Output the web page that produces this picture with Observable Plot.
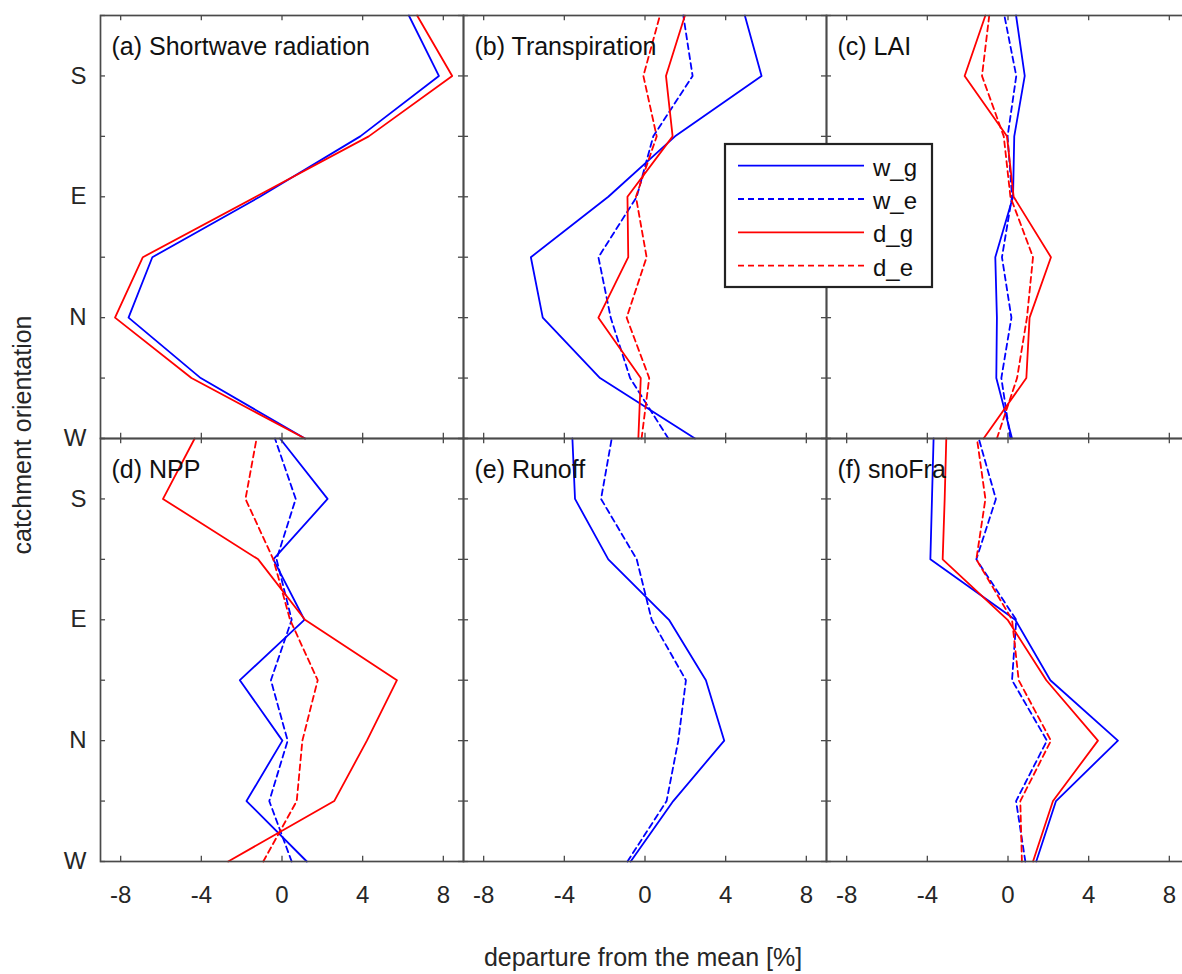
<!DOCTYPE html>
<html><head><meta charset="utf-8">
<script src="https://cdn.jsdelivr.net/npm/d3@7"></script>
<script src="https://cdn.jsdelivr.net/npm/@observablehq/plot@0.6"></script>
<style>
html,body{margin:0;padding:0;background:#fff;overflow:hidden;}
#chart{width:1190px;}
#chart svg{display:block;max-width:none !important;width:1190px;height:974px;}
</style></head><body><div id="chart"></div>
<script>
// ---------- data ----------
const orientationLabels = ["W","NW","N","NE","E","SE","S","SW"]; // bottom -> top
const orientationIndex = [0,1,2,3,4,5,6,7];
const yTickValues = [0,2,4,6];
const xTickValues = [-8,-4,0,4,8];
const panelTitles = ["(a) Shortwave radiation","(b) Transpiration","(c) LAI","(d) NPP","(e) Runoff","(f) snoFra"];
const seriesNames = ["w_g","w_e","d_g","d_e"];
const seriesColors = ["#0000ff","#0000ff","#ff0000","#ff0000"];
const seriesDashed = [false,true,false,true];

// (a) Shortwave radiation
const swr_w_g = [1.14,-4.03,-7.61,-6.43,-1.10,3.88,7.78,6.29];
const swr_d_g = [1.14,-4.49,-8.28,-6.90,-1.30,4.30,8.44,6.70];
// (b) Transpiration
const tra_w_g = [2.48,-2.23,-5.07,-5.66,-1.82,1.49,5.78,4.95];
const tra_w_e = [1.16,-0.74,-1.70,-2.31,-0.41,0.41,2.36,1.90];
const tra_d_g = [-0.33,-0.21,-2.31,-0.83,-0.87,1.37,1.04,1.98];
const tra_d_e = [-0.17,0.21,-0.91,0.08,-0.45,0.58,-0.08,0.74];
// (c) LAI
const lai_w_g = [0.20,-0.58,-0.55,-0.63,0.25,0.31,0.83,0.40];
const lai_w_e = [0.12,-0.33,0.17,-0.30,0.20,-0.02,0.41,-0.18];
const lai_d_g = [-1.21,0.91,1.07,2.13,0.28,-0.05,-2.15,-1.12];
const lai_d_e = [-0.55,0.45,0.94,1.24,0.12,-0.21,-1.29,-0.93];
// (d) NPP
const npp_w_g = [1.23,-1.76,0.02,-2.09,1.11,-0.43,2.26,-0.10];
const npp_w_e = [0.48,-0.63,0.28,-0.55,0.48,-0.27,0.68,-0.35];
const npp_d_g = [-2.67,2.59,4.21,5.70,1.14,-1.18,-5.90,-4.33];
const npp_d_e = [-0.93,0.73,1.01,1.77,0.40,-0.43,-1.81,-1.26];
// (e) Runoff
const run_w_g = [-0.71,1.40,3.93,3.02,1.19,-1.82,-3.47,-3.60];
const run_w_e = [-0.87,1.07,1.65,2.03,0.33,-0.41,-2.18,-1.65];
// (f) snoFra
const sno_w_g = [1.40,2.38,5.45,2.10,0.36,-3.85,-3.77,-3.69];
const sno_w_e = [0.86,0.40,1.93,0.20,0.41,-1.57,-0.60,-1.45];
const sno_d_g = [1.24,2.23,4.46,1.90,-0.02,-3.24,-3.14,-3.06];
const sno_d_e = [0.69,0.61,2.13,0.53,0.20,-1.57,-1.12,-1.54];

// panel -> {series name: values}
const panelSeries = [
  {w_g: swr_w_g, d_g: swr_d_g},
  {w_g: tra_w_g, w_e: tra_w_e, d_g: tra_d_g, d_e: tra_d_e},
  {w_g: lai_w_g, w_e: lai_w_e, d_g: lai_d_g, d_e: lai_d_e},
  {w_g: npp_w_g, w_e: npp_w_e, d_g: npp_d_g, d_e: npp_d_e},
  {w_g: run_w_g, w_e: run_w_e},
  {w_g: sno_w_g, w_e: sno_w_e, d_g: sno_d_g, d_e: sno_d_e}
];

// ---------- build table ----------
const rows = [];
panelSeries.forEach((ps, p) => {
  seriesNames.forEach(s => {
    if (!ps[s]) return;
    ps[s].forEach((v, i) => rows.push({panel: p, col: p % 3, row: Math.floor(p / 3), series: s, i: orientationIndex[i], v}));
  });
});
const titleRows = panelTitles.map((t, p) => ({title: t, col: p % 3, row: Math.floor(p / 3)}));

const FONT = "'Liberation Sans', Arial, Helvetica, sans-serif";
const frameColor = "#4a4a4a";
const xTickLen = 0.25, yTickLen = 0.085;

const lineMarks = seriesNames.map((s, k) => Plot.line(rows.filter(d => d.series === s), {
  x: "v", y: "i", fx: "col", fy: "row", z: "panel",
  stroke: seriesColors[k], strokeWidth: 1.8,
  strokeDasharray: seriesDashed[k] ? "6,4" : null
}));

const chart = Plot.plot({
  width: 1190, height: 974,
  marginLeft: 99, marginRight: 1, marginTop: 14, marginBottom: 113,
  style: {fontFamily: FONT, background: "#fff", maxWidth: "none"},
  x: {domain: [-9, 9]},
  y: {domain: [0, 7]},
  fx: {domain: [0, 1, 2], padding: 0, axis: null},
  fy: {domain: [0, 1], padding: 0, axis: null},
  marks: [
    ...lineMarks,
    Plot.ruleY(orientationIndex, {y: d => d, x1: -9, x2: -9 + xTickLen, stroke: frameColor, strokeWidth: 1.3}),
    Plot.ruleY(orientationIndex, {y: d => d, x1: 9 - xTickLen, x2: 9, stroke: frameColor, strokeWidth: 1.3}),
    Plot.ruleX(xTickValues, {x: d => d, y1: 0, y2: yTickLen, stroke: frameColor, strokeWidth: 1.3}),
    Plot.ruleX(xTickValues, {x: d => d, y1: 7 - yTickLen, y2: 7, stroke: frameColor, strokeWidth: 1.3}),
    Plot.frame({stroke: frameColor, strokeWidth: 1.7}),
    Plot.text(titleRows, {fx: "col", fy: "row", text: "title", frameAnchor: "top-left",
      dx: 11, dy: 39, lineAnchor: "bottom", textAnchor: "start", fontSize: 25, fill: "#111"}),
    Plot.axisX({ticks: xTickValues, tickFormat: d => String(d), tickSize: 0, tickPadding: 24,
      fontSize: 24, fill: "#262626", label: null}),
    Plot.axisY({ticks: yTickValues, tickFormat: d => orientationLabels[d], tickSize: 0, tickPadding: 14,
      fontSize: 24, fill: "#262626", label: null})
  ]
});
document.getElementById("chart").appendChild(chart);

// ---------- axis titles & legend ----------
const svg = d3.select(chart);
svg.append("text")
  .attr("transform", "translate(31,435) rotate(-90)")
  .attr("text-anchor", "middle").attr("font-family", FONT).attr("font-size", 25).attr("fill", "#262626")
  .text("catchment orientation");
svg.append("text")
  .attr("x", 643).attr("y", 966)
  .attr("text-anchor", "middle").attr("font-family", FONT).attr("font-size", 25).attr("fill", "#262626")
  .text("departure from the mean [%]");

const lg = svg.append("g");
lg.append("rect").attr("x", 725).attr("y", 144).attr("width", 207).attr("height", 143)
  .attr("fill", "#fff").attr("stroke", "#222").attr("stroke-width", 2.2);
seriesNames.forEach((s, k) => {
  const y = 165.7 + k * 33.3;
  lg.append("line").attr("x1", 738).attr("x2", 864).attr("y1", y).attr("y2", y)
    .attr("stroke", seriesColors[k]).attr("stroke-width", 1.8)
    .attr("stroke-dasharray", seriesDashed[k] ? "6,4" : null);
  lg.append("text").attr("x", 873).attr("y", y + 10).attr("text-anchor", "start").attr("font-family", FONT)
    .attr("font-size", 24).attr("fill", "#111").text(s);
});
</script></body></html>
